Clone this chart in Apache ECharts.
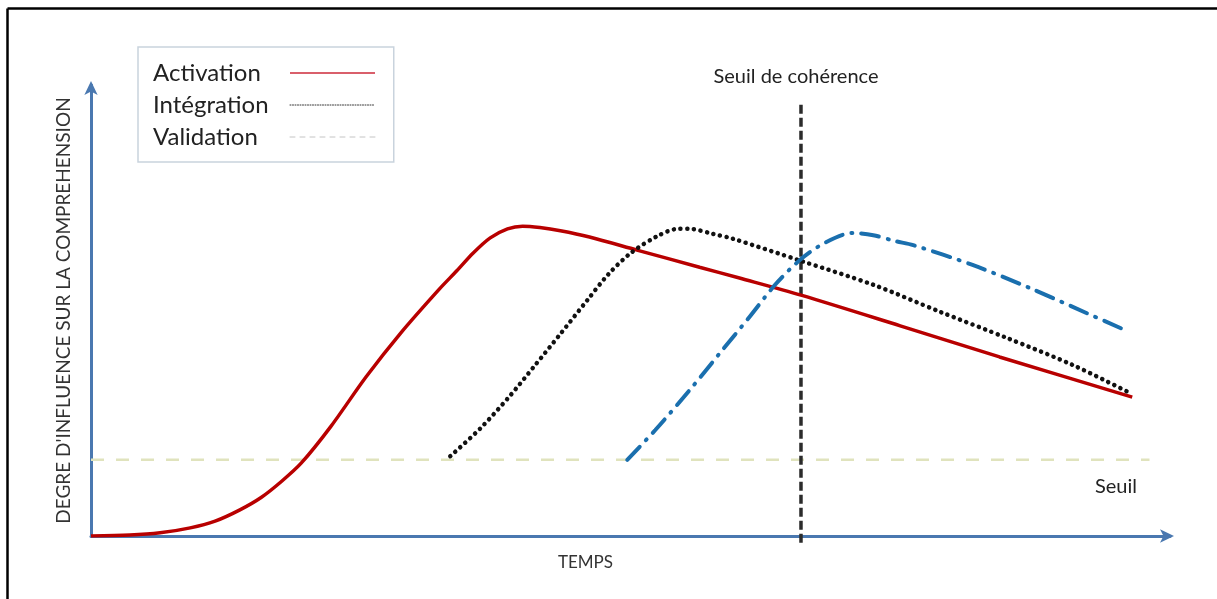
<!DOCTYPE html>
<html>
<head>
<meta charset="utf-8">
<script src="https://cdn.jsdelivr.net/npm/echarts@6/dist/echarts.min.js"></script>
<style>
html,body{margin:0;padding:0;background:#fff;}
#c{width:1217px;height:599px;}
</style>
</head>
<body>
<div id="c"></div>
<script>
// Series names
var seriesNames = ['Activation', 'Intégration', 'Validation'];
// Curves: [temps, degré] pairs (axis units 0–100)
var activation = [[0,0],[3.6,0.2],[6.4,0.7],[9.2,1.8],[11.5,3.3],[13.8,5.8],[15.8,8.6],[17.7,12.2],[19.5,16.2],[22.2,24.2],[25.5,35.3],[28.7,45.0],[32.3,54.8],[33.9,58.8],[35.4,62.7],[37.0,66.1],[38.6,68.1],[40.0,68.7],[41.6,68.4],[43.5,67.7],[46.2,66.3],[50.6,63.4],[56.4,59.6],[60.1,57.2],[65.8,53.4],[75.0,46.6],[84.2,39.7],[96.5,30.8]];
var integration = [[33.3,17.7],[36.1,23.9],[38.8,31.0],[41.1,37.7],[43.5,44.8],[46.0,52.3],[47.9,57.9],[50.0,62.7],[52.5,66.5],[54.4,68.1],[55.5,68.1],[57.6,67.0],[59.5,65.9],[65.8,61.0],[72.5,55.7],[78.7,49.7],[84.9,43.9],[91.0,37.9],[96.3,31.7]];
var validation = [[49.7,16.9],[52.3,23.5],[55.5,32.4],[58.3,40.6],[61.1,48.8],[63.4,55.7],[65.7,61.2],[68.0,65.0],[70.6,67.2],[72.5,66.7],[74.5,65.4],[76.2,64.5],[81.7,60.1],[87.0,55.0],[92.3,49.4],[95.6,45.9]];
// Threshold ("Seuil") and coherence threshold ("Seuil de cohérence")
var seuil = [[0,16.9],[98.1,16.9]];
var seuilCoherence = [[65.8,-1.5],[65.8,96.2]];
// Texts
var yTitle = "DEGRE D'INFLUENCE SUR LA COMPREHENSION";
var xTitle = 'TEMPS';
var seuilLabel = 'Seuil';
var coherenceLabel = 'Seuil de cohérence';

var FONT = 'Lato';
var chart = echarts.init(document.getElementById('c'), null, {renderer:'canvas'});
var axisColor = '#4a78b0';
var noSym = {color: 'rgba(0,0,0,0)', borderWidth: 0, borderColor: 'rgba(0,0,0,0)'};

chart.setOption({
  animation: false,
  backgroundColor: '#ffffff',
  grid: {left: 91, top: 85, right: 47, bottom: 63},
  xAxis: {
    type: 'value', min: 0, max: 100,
    name: xTitle, nameLocation: 'middle', nameGap: 18,
    nameTextStyle: {fontFamily: FONT, fontSize: 17, color: '#333', padding: [0, 90, 0, 0], verticalAlign: 'top'},
    axisLine: {show: true, lineStyle: {color: axisColor, width: 3}, symbol: ['none', 'arrow'], symbolSize: [10, 14], symbolOffset: [0, 4]},
    axisTick: {show: false}, axisLabel: {show: false}, splitLine: {show: false}
  },
  yAxis: {
    type: 'value', min: 0, max: 100,
    name: yTitle, nameLocation: 'middle', nameGap: 18, nameRotate: 90,
    nameTextStyle: {fontFamily: FONT, fontSize: 19, color: '#333'},
    axisLine: {show: true, lineStyle: {color: axisColor, width: 3}, symbol: ['none', 'arrow'], symbolSize: [10, 14], symbolOffset: [0, 4]},
    axisTick: {show: false}, axisLabel: {show: false}, splitLine: {show: false}
  },
  legend: {
    left: 138, top: 47, orient: 'vertical', align: 'right',
    padding: [14, 18, 13, 15], itemGap: 8, itemWidth: 85, itemHeight: 14,
    borderColor: '#c9d3dd', borderWidth: 1.5,
    formatter: function (n) { return '{a|' + n + '}'; },
    textStyle: {fontFamily: FONT, fontSize: 24, color: '#222', lineHeight: 24,
      rich: {a: {fontFamily: FONT, fontSize: 24, color: '#222', width: 132, align: 'left', lineHeight: 24}}},
    data: [
      {name: seriesNames[0], itemStyle: noSym, lineStyle: {color: '#cc2a3a', width: 1.5, type: 'solid'}},
      {name: seriesNames[1], itemStyle: noSym, lineStyle: {color: '#333', width: 1, type: [1, 1.5]}},
      {name: seriesNames[2], itemStyle: noSym, lineStyle: {color: '#c4c4c4', width: 1, type: [5, 5]}}
    ]
  },
  series: [
    {name: 'seuil', type: 'line', data: seuil, symbol: 'none', silent: true,
     lineStyle: {color: '#e0e3bd', width: 2.5, type: [13, 12]}, z: 1},
    {name: 'coherence', type: 'line', data: seuilCoherence, symbol: 'none', clip: false, silent: true,
     lineStyle: {color: '#2b2b2b', width: 3.5, type: [9, 4]}, z: 3},
    {name: seriesNames[0], type: 'line', data: activation, symbol: 'none', smooth: 0.3,
     lineStyle: {color: '#b80000', width: 3.5}, z: 4},
    {name: seriesNames[1], type: 'line', data: integration, symbol: 'none', smooth: 0.3,
     lineStyle: {color: '#111', width: 4.5, type: [0.1, 6.6], cap: 'round'}, z: 5},
    {name: seriesNames[2], type: 'line', data: validation, symbol: 'none', smooth: 0.3,
     lineStyle: {color: '#1a6fae', width: 4, type: [18, 9, 1, 9], cap: 'round'}, z: 5}
  ],
  graphic: [
    {type: 'line', shape: {x1: 7.5, y1: 8.5, x2: 1217, y2: 8.5}, style: {stroke: '#000', lineWidth: 2.5}, silent: true},
    {type: 'line', shape: {x1: 7.5, y1: 8.5, x2: 7.5, y2: 599}, style: {stroke: '#000', lineWidth: 2.5}, silent: true},
    {type: 'text', x: 796, y: 77, style: {text: coherenceLabel, font: '20px ' + FONT, fill: '#222', align: 'center', verticalAlign: 'middle'}},
    {type: 'text', x: 1095, y: 487, style: {text: seuilLabel, font: '20px ' + FONT, fill: '#222', align: 'left', verticalAlign: 'middle'}}
  ]
});
</script>
</body>
</html>
